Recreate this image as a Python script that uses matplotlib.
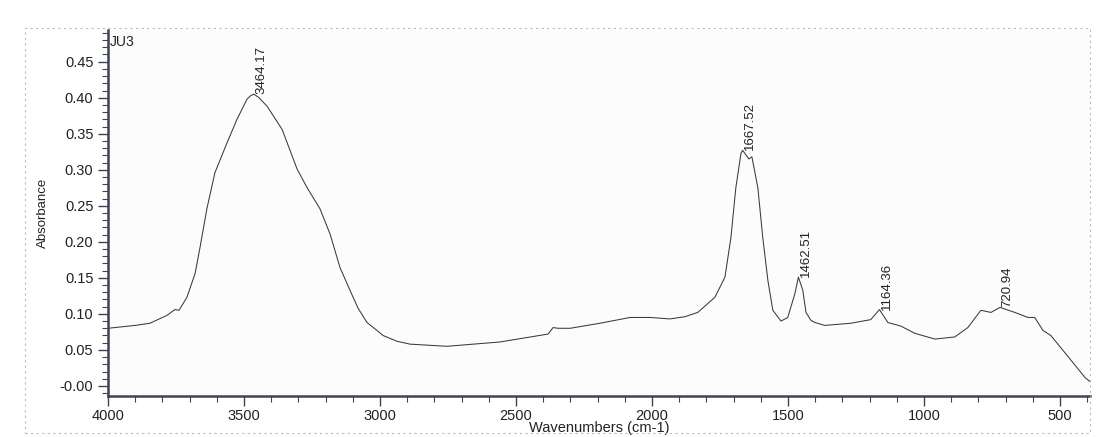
import matplotlib.pyplot as plt
from matplotlib.patches import Rectangle
from matplotlib.ticker import MultipleLocator

plt.rcParams['font.family'] = ['Liberation Sans', 'DejaVu Sans']

# spectrum (wavenumber cm-1, absorbance)
wavenumbers = [4000, 3900, 3846, 3783, 3754, 3739, 3710, 3680, 3662, 3636,
               3607, 3563, 3526, 3489, 3475, 3464, 3445, 3415, 3360, 3305,
               3268, 3221, 3184, 3147, 3099, 3081, 3048, 3018, 2989, 2938,
               2890, 2754, 2559, 2382, 2364, 2346, 2301, 2191, 2081, 2007,
               1934, 1880, 1832, 1769, 1732, 1710, 1692, 1673, 1667, 1644,
               1633, 1611, 1593, 1574, 1556, 1526, 1501, 1475, 1462, 1446,
               1434, 1416, 1401, 1365, 1269, 1196, 1164, 1133, 1085, 1034,
               960, 887, 839, 791, 754, 721, 666, 618, 593, 563,
               534, 482, 409, 390]
absorbance = [0.080, 0.084, 0.087, 0.098, 0.106, 0.105, 0.123, 0.156, 0.192, 0.247,
              0.296, 0.337, 0.370, 0.398, 0.403, 0.405, 0.400, 0.388, 0.356, 0.301,
              0.275, 0.246, 0.211, 0.164, 0.123, 0.108, 0.088, 0.079, 0.070, 0.062,
              0.058, 0.055, 0.061, 0.072, 0.081, 0.080, 0.080, 0.087, 0.095, 0.095,
              0.093, 0.096, 0.102, 0.123, 0.151, 0.206, 0.275, 0.323, 0.327, 0.315,
              0.318, 0.275, 0.206, 0.146, 0.105, 0.090, 0.095, 0.128, 0.151, 0.133,
              0.102, 0.091, 0.088, 0.084, 0.087, 0.092, 0.106, 0.088, 0.083, 0.073,
              0.065, 0.068, 0.081, 0.105, 0.102, 0.109, 0.102, 0.095, 0.095, 0.077,
              0.070, 0.046, 0.012, 0.006]

peak_pos = [3464.17, 1667.52, 1462.51, 1164.36, 720.94]
peak_val = [0.405, 0.327, 0.151, 0.106, 0.109]
peak_text = ['3464.17', '1667.52', '1462.51', '1164.36', '720.94']

xticks = [4000, 3500, 3000, 2500, 2000, 1500, 1000, 500]
yticks = [0.0, 0.05, 0.10, 0.15, 0.20, 0.25, 0.30, 0.35, 0.40, 0.45]
ytick_labels = ['-0.00', '0.05', '0.10', '0.15', '0.20', '0.25', '0.30', '0.35', '0.40', '0.45']

axis_col = '#3d4257'

fig = plt.figure(figsize=(10.98, 4.37), dpi=100, facecolor='white')
ax = fig.add_axes([0.0984, 0.0938, 0.8943, 0.8376])
ax.set_facecolor('#fcfcfc')

# faint dotted border of the scanned page
fig.patches.append(Rectangle((0.023, 0.01), 0.97, 0.925, transform=fig.transFigure,
                             fill=False, ec='#bbbbbb', lw=0.8, ls=(0, (2, 3))))

ax.plot(wavenumbers, absorbance, color='#3a3a3a', lw=0.75)

for p, v, t in zip(peak_pos, peak_val, peak_text):
    ax.annotate(t, (p, v), xytext=(1, 0), textcoords='offset points',
                rotation=90, ha='left', va='bottom', fontsize=9.5, color='#222222')

ax.set_xlim(4000, 390)
ax.set_ylim(-0.014, 0.494)
ax.set_xticks(xticks)
ax.set_yticks(yticks)
ax.set_yticklabels(ytick_labels)
ax.xaxis.set_minor_locator(MultipleLocator(100))
ax.yaxis.set_minor_locator(MultipleLocator(0.01))

for s in ['top', 'right']:
    ax.spines[s].set_visible(False)
for s in ['left', 'bottom']:
    ax.spines[s].set_color(axis_col)
    ax.spines[s].set_linewidth(1.8)

ax.tick_params(axis='both', which='major', length=7, width=1, color=axis_col,
               labelsize=10.5, labelcolor='#222222', direction='out')
ax.tick_params(axis='both', which='minor', length=4, width=0.8, color=axis_col,
               direction='out')
ax.tick_params(axis='x', which='major', pad=2)

ax.set_xlabel('Wavenumbers (cm-1)', fontsize=10.5, color='#222222', labelpad=-1)
ax.set_ylabel('Absorbance', fontsize=9.5, color='#222222', labelpad=8)
ax.text(0.002, 0.985, 'JU3', transform=ax.transAxes, ha='left', va='top',
        fontsize=10, color='#222222')

fig.savefig('out.png', dpi=100)
